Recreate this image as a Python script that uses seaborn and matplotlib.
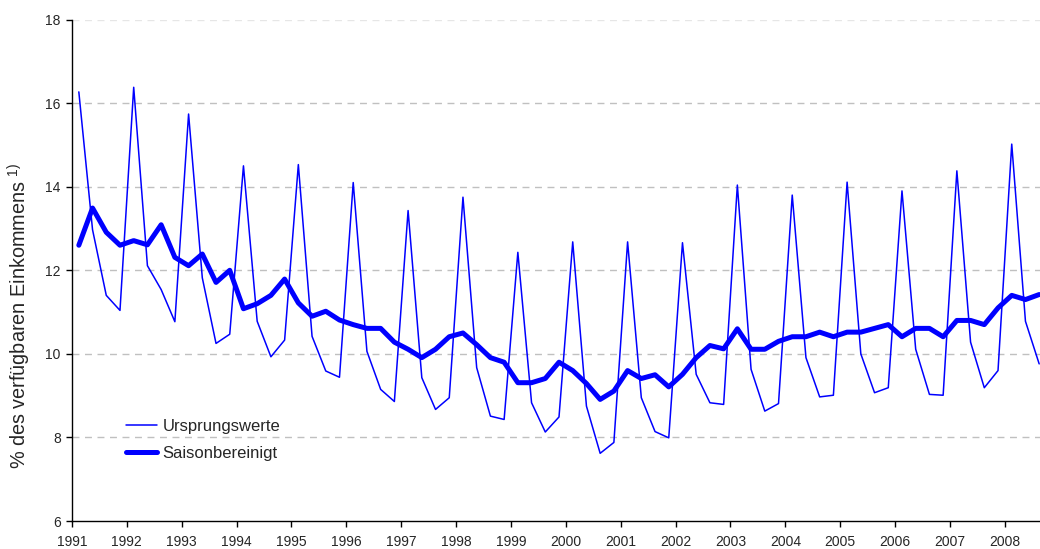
import matplotlib
matplotlib.use("Agg")
import matplotlib.pyplot as plt
import seaborn as sns
import pandas as pd

years = list(range(1991, 2009))

# Sparquote, Ursprungswerte (Quartale 1991Q1 - 2008Q3)
ursprung = [
    16.27, 12.97, 11.40, 11.04,
    16.38, 12.11, 11.54, 10.77,
    15.74, 11.82, 10.25, 10.47,
    14.50, 10.78, 9.93, 10.33,
    14.53, 10.42, 9.59, 9.44,
    14.10, 10.06, 9.15, 8.86,
    13.43, 9.43, 8.67, 8.95,
    13.75, 9.67, 8.51, 8.43,
    12.43, 8.83, 8.13, 8.49,
    12.68, 8.75, 7.62, 7.88,
    12.68, 8.95, 8.14, 7.99,
    12.66, 9.51, 8.83, 8.79,
    14.04, 9.63, 8.63, 8.81,
    13.80, 9.91, 8.97, 9.01,
    14.11, 10.00, 9.07, 9.19,
    13.90, 10.11, 9.03, 9.01,
    14.38, 10.28, 9.19, 9.60,
    15.02, 10.78, 9.76,
]

# Sparquote, saisonbereinigt
saison = [
    12.60, 13.49, 12.91, 12.60,
    12.71, 12.61, 13.09, 12.31,
    12.11, 12.39, 11.71, 12.00,
    11.08, 11.20, 11.40, 11.79,
    11.22, 10.90, 11.02, 10.81,
    10.70, 10.61, 10.61, 10.28,
    10.11, 9.91, 10.11, 10.41,
    10.50, 10.22, 9.91, 9.80,
    9.31, 9.31, 9.41, 9.80,
    9.60, 9.29, 8.91, 9.11,
    9.60, 9.41, 9.50, 9.21,
    9.51, 9.91, 10.20, 10.12,
    10.60, 10.11, 10.11, 10.30,
    10.41, 10.41, 10.52, 10.41,
    10.52, 10.52, 10.61, 10.70,
    10.41, 10.61, 10.61, 10.41,
    10.80, 10.80, 10.70, 11.10,
    11.40, 11.30, 11.42,
]

# quarter midpoints
zeit = [years[0] + (i + 0.5) / 4 for i in range(len(ursprung))]
df = pd.DataFrame({"zeit": zeit, "ursprung": ursprung, "saison": saison})

sns.set_style("white")
plt.rcParams["font.family"] = ["Liberation Sans", "DejaVu Sans"]
plt.rcParams["mathtext.fontset"] = "custom"
plt.rcParams["mathtext.rm"] = "Liberation Sans"

fig = plt.figure(figsize=(10.4, 5.49), dpi=100)
ax = fig.add_axes([0.0692, 0.051, 0.9308, 0.9133])

sns.lineplot(data=df, x="zeit", y="ursprung", ax=ax, color="#0000ff",
             linewidth=1.1, label="Ursprungswerte")
sns.lineplot(data=df, x="zeit", y="saison", ax=ax, color="#0000ff",
             linewidth=3.6, label="Saisonbereinigt")

ax.set_xlim(1991, 2008.64)
ax.set_ylim(6, 18)
ax.set_xticks(years)
ax.set_xticklabels([str(y) for y in years], fontsize=10)
ax.set_yticks(range(6, 19, 2))
ax.set_yticklabels([str(v) for v in range(6, 19, 2)], fontsize=10)
ax.tick_params(axis="both", direction="out", length=4, width=1, color="black",
               left=True, bottom=True)
ax.tick_params(axis="x", pad=6)
ax.tick_params(axis="y", pad=4)

for y in range(8, 19, 2):
    c = "#e6e6e6" if y == 18 else "#c0c0c0"
    ax.axhline(y, color=c, lw=1, ls=(0, (5, 4)), zorder=0)

sns.despine(ax=ax)
for s in ["left", "bottom"]:
    ax.spines[s].set_color("black")
    ax.spines[s].set_linewidth(1)

ax.set_xlabel("")
ax.set_ylabel("% des verfügbaren Einkommens $^{\\mathrm{1)}}$", fontsize=14.3)
ax.yaxis.set_label_coords(-0.040, 0.41)

ax.legend(loc="lower left", bbox_to_anchor=(0.04, 0.09), frameon=False,
          fontsize=12, handlelength=1.9, handletextpad=0.3, labelspacing=0.7)

fig.savefig("out.png", dpi=100)
